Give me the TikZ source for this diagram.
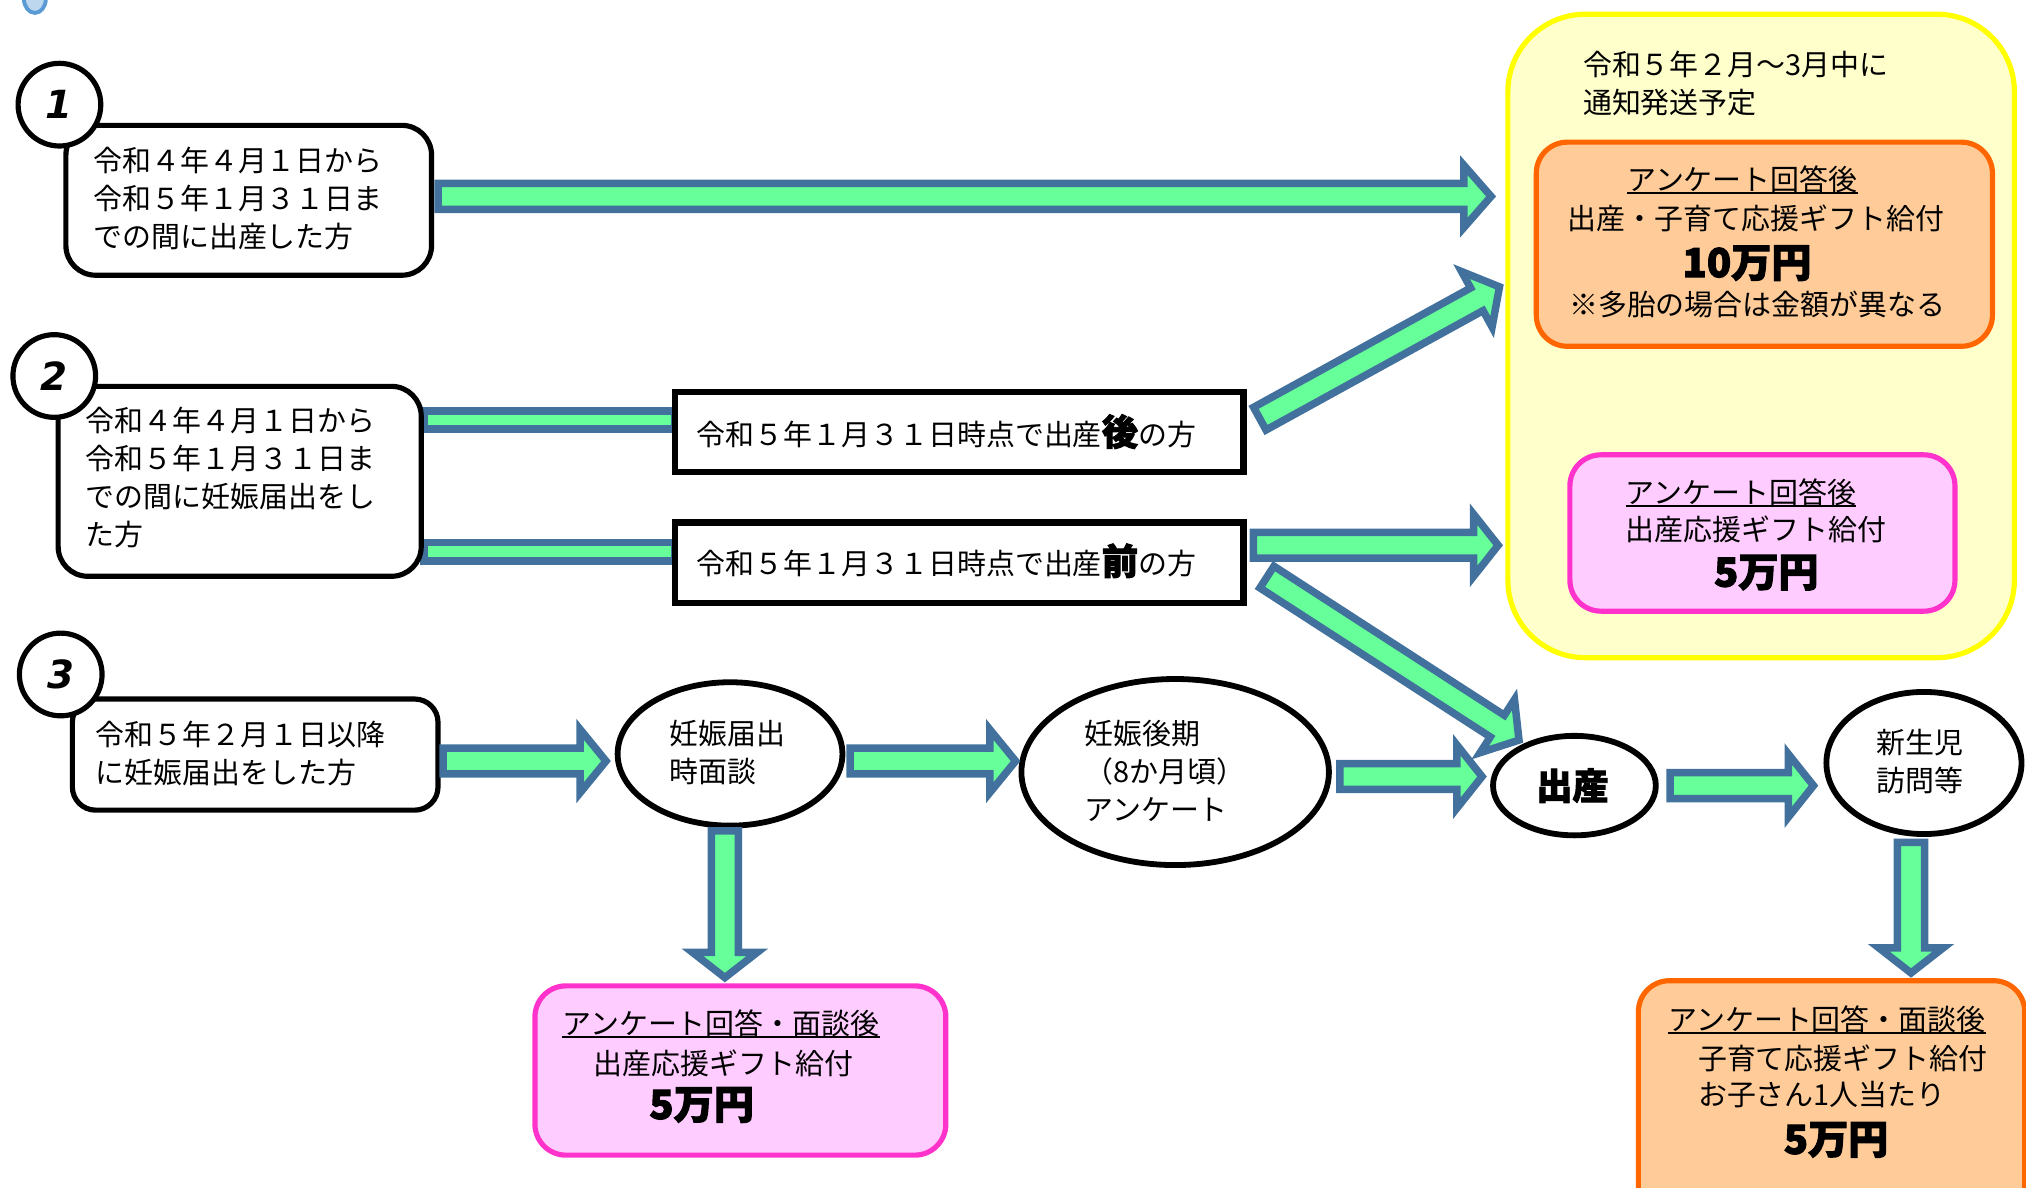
\documentclass[tikz,border=0pt]{standalone}
\usepackage{fontspec}
\newfontfamily\jp{Noto Sans CJK JP}[BoldFeatures={FakeBold=2.5}]
\newfontfamily\dv{DejaVu Sans}[BoldFeatures={FakeBold=1.5}]
\usetikzlibrary{calc,shapes.geometric}
\definecolor{arrb}{HTML}{41719C}
\definecolor{arrg}{HTML}{66FF99}
\definecolor{yelb}{HTML}{FFFF00}
\definecolor{yelf}{HTML}{FFFFCC}
\definecolor{orab}{HTML}{FF6600}
\definecolor{oraf}{HTML}{FFCC99}
\definecolor{pinb}{HTML}{FF33CC}
\definecolor{pinf}{HTML}{FFCCFF}
\definecolor{iconb}{HTML}{5B9BD5}
\definecolor{iconf}{HTML}{BDD7EE}
\newcommand{\ulx}[1]{\setbox0=\hbox{#1}\rlap{\rule[-2.5pt]{\wd0}{1.3pt}}\box0}
\newcommand{\blockarrow}[5]{%
  \coordinate (bahead) at ($(#2)!#5!(#1)$);
  \draw[blk] ($(#1)!#3!90:(#2)$) -- ($(bahead)!#3!90:(#2)$) -- ($(bahead)!#4!90:(#2)$) -- (#2) -- ($(bahead)!#4!-90:(#2)$) -- ($(bahead)!#3!-90:(#2)$) -- ($(#1)!#3!-90:(#2)$) -- cycle;}
\newcommand{\connbar}[3]{%
  \draw[blk] ($(#1)!#3!90:(#2)$) -- ($(#2)!#3!-90:(#1)$) -- ($(#2)!#3!90:(#1)$) -- ($(#1)!#3!-90:(#2)$) -- cycle;}
\tikzset{
  rbox/.style={draw=black, line width=4, fill=white, rounded corners=23, inner sep=0},
  sbox/.style={draw=black, line width=5, fill=white, inner sep=0},
  numc/.style={circle, draw=black, line width=4, fill=white, minimum size=64, inner sep=0, font=\dv\bfseries\itshape\fontsize{30}{30}\selectfont},
  oval/.style={ellipse, draw=black, line width=4.5, fill=white, inner sep=0},
  blk/.style={draw=arrb, line width=5.8, fill=arrg, line join=miter},
  txt/.style={inner sep=0, font=\jp\fontsize{22.4}{29.4}\selectfont, align=left},
  big/.style={inner sep=0, font=\jp\bfseries\fontsize{31}{31}\selectfont},
  obox/.style={draw=orab, fill=oraf, line width=4, rounded corners=24, inner sep=0},
  pbox/.style={draw=pinb, fill=pinf, line width=4, rounded corners=24, inner sep=0}
}
\begin{document}
\begin{tikzpicture}[x=1pt,y=-1pt]
\useasboundingbox (0,0) rectangle (1568,918.7);
% small icon at top
\node[ellipse, draw=iconb, fill=iconf, line width=3, minimum width=17, minimum height=22, inner sep=0] (icon) at (27,-1) {};
% yellow panel
\node[draw=yelb, fill=yelf, line width=4, rounded corners=60, minimum width=392, minimum height=498, inner sep=0] (yel) at (1363,260) {};
\node[txt, anchor=west] (ytitle) at (1225,65) {令和５年２月～3月中に\\通知発送予定};
% orange top
\node[obox, minimum width=353, minimum height=158] (o1) at (1365.5,189) {};
\node[txt, anchor=base] (o1a) at (1348.5,147.5) {\ulx{アンケート回答後}};
\node[txt, anchor=base] (o1b) at (1359,177.5) {出産・子育て応援ギフト給付};
\node[big, anchor=base] (o1c) at (1352,214.5) {10万円};
\node[txt, anchor=base] (o1d) at (1360,244.5) {※多胎の場合は金額が異なる};
% pink top
\node[pbox, minimum width=298, minimum height=121] (p1) at (1364,412.5) {};
\node[txt, anchor=base west] (p1a) at (1258,389.5) {\ulx{アンケート回答後}};
\node[txt, anchor=base west] (p1b) at (1258,418.5) {出産応援ギフト給付};
\node[big, anchor=base] (p1c) at (1367,454) {5万円};
% pink bottom
\node[pbox, minimum width=318, minimum height=131] (p2) at (573,828.5) {};
\node[txt, anchor=base west] (p2a) at (435,800.5) {\ulx{アンケート回答・面談後}};
\node[txt, anchor=base west] (p2b) at (459,831.5) {出産応援ギフト給付};
\node[big, anchor=base] (p2c) at (543,866) {5万円};
% orange bottom
\node[obox, minimum width=299, minimum height=191] (o2) at (1417.5,854.5) {};
\node[txt, anchor=base west] (o2a) at (1291,797.5) {\ulx{アンケート回答・面談後}};
\node[txt, anchor=base west] (o2b) at (1314,827.5) {子育て応援ギフト給付};
\node[txt, anchor=base west] (o2c) at (1314,855.5) {お子さん1人当たり};
\node[big, anchor=base] (o2d) at (1421,893) {5万円};
% bars from box 2
\coordinate (bar1s) at (328,325);
\coordinate (bar1e) at (522,325);
\coordinate (bar2s) at (328,427);
\coordinate (bar2e) at (522,427);
\connbar{bar1s}{bar1e}{7pt}
\connbar{bar2s}{bar2e}{7pt}
% boxes
\node[rbox, minimum width=283, minimum height=116] (b1) at (192.5,155) {};
\node[txt, anchor=west] (b1t) at (72,154) {令和４年４月１日から\\令和５年１月３１日ま\\での間に出産した方};
\node[rbox, minimum width=281, minimum height=147] (b2) at (185.5,372.5) {};
\node[txt, anchor=west] (b2t) at (66,369.5) {令和４年４月１日から\\令和５年１月３１日ま\\での間に妊娠届出をし\\た方};
\node[rbox, rounded corners=18, minimum width=283, minimum height=86] (b3) at (197.5,584) {};
\node[txt, anchor=west] (b3t) at (74,583.5) {令和５年２月１日以降\\に妊娠届出をした方};
\node[sbox, minimum width=440, minimum height=62] (s1) at (742.5,334.5) {};
\node[txt, anchor=west] (s1t) at (539,334) {令和５年１月３１日時点で出産{\bfseries\fontsize{28}{28}\selectfont 後}の方};
\node[sbox, minimum width=440, minimum height=62] (s2) at (742.5,435.5) {};
\node[txt, anchor=west] (s2t) at (539,434) {令和５年１月３１日時点で出産{\bfseries\fontsize{28}{28}\selectfont 前}の方};
% number circles
\node[numc] (c1) at (46,81) {1};
\node[numc] (c2) at (42,291) {2};
\node[numc] (c3) at (47,522) {3};
% ovals
\node[oval, minimum width=174, minimum height=111] (e1) at (565,583.5) {};
\node[txt, anchor=west] (e1t) at (518,582.5) {妊娠届出\\時面談};
\node[oval, minimum width=238, minimum height=144] (e2) at (909.5,597.5) {};
\node[txt, anchor=west] (e2t) at (839,597) {妊娠後期\\（8か月頃）\\アンケート};
\node[oval, minimum width=126, minimum height=77] (e3) at (1218.5,608) {};
\node[inner sep=0, font=\jp\bfseries\fontsize{28}{28}\selectfont] (e3t) at (1217,608) {出産};
\node[oval, minimum width=151, minimum height=110] (e4) at (1489,590.5) {};
\node[txt, align=center] (e4t) at (1486,589.5) {新生児\\訪問等};
% arrows
\coordinate (a1s) at (339,152);   \coordinate (a1e) at (1154,152);
\coordinate (a2s) at (975,324);   \coordinate (a2e) at (1160.5,222);
\coordinate (a3s) at (970,422);   \coordinate (a3e) at (1159.5,422);
\coordinate (a4s) at (980.5,446.6); \coordinate (a4e) at (1175.6,572.8);
\coordinate (a5s) at (343,589);   \coordinate (a5e) at (469,589);
\coordinate (a6s) at (658,589);   \coordinate (a6e) at (786,589);
\coordinate (a7s) at (1037,601);  \coordinate (a7e) at (1147,601);
\coordinate (a8s) at (1292.5,608); \coordinate (a8e) at (1403.5,608);
\coordinate (a9s) at (561,643);   \coordinate (a9e) at (561,756.6);
\coordinate (a10s) at (1479,652); \coordinate (a10e) at (1479,753);
\blockarrow{a1s}{a1e}{10pt}{24pt}{21pt}
\blockarrow{a2s}{a2e}{10pt}{24.5pt}{20pt}
\blockarrow{a3s}{a3e}{10pt}{24pt}{19pt}
\blockarrow{a4s}{a4e}{10pt}{24.5pt}{20pt}
\blockarrow{a5s}{a5e}{10pt}{24.5pt}{20pt}
\blockarrow{a6s}{a6e}{10pt}{24.5pt}{20pt}
\blockarrow{a7s}{a7e}{10pt}{24.5pt}{19.5pt}
\blockarrow{a8s}{a8e}{10pt}{24.5pt}{19.5pt}
\blockarrow{a9s}{a9e}{10.5pt}{25pt}{19.5pt}
\blockarrow{a10s}{a10e}{10.5pt}{25pt}{19.5pt}
\end{tikzpicture}
\end{document}
